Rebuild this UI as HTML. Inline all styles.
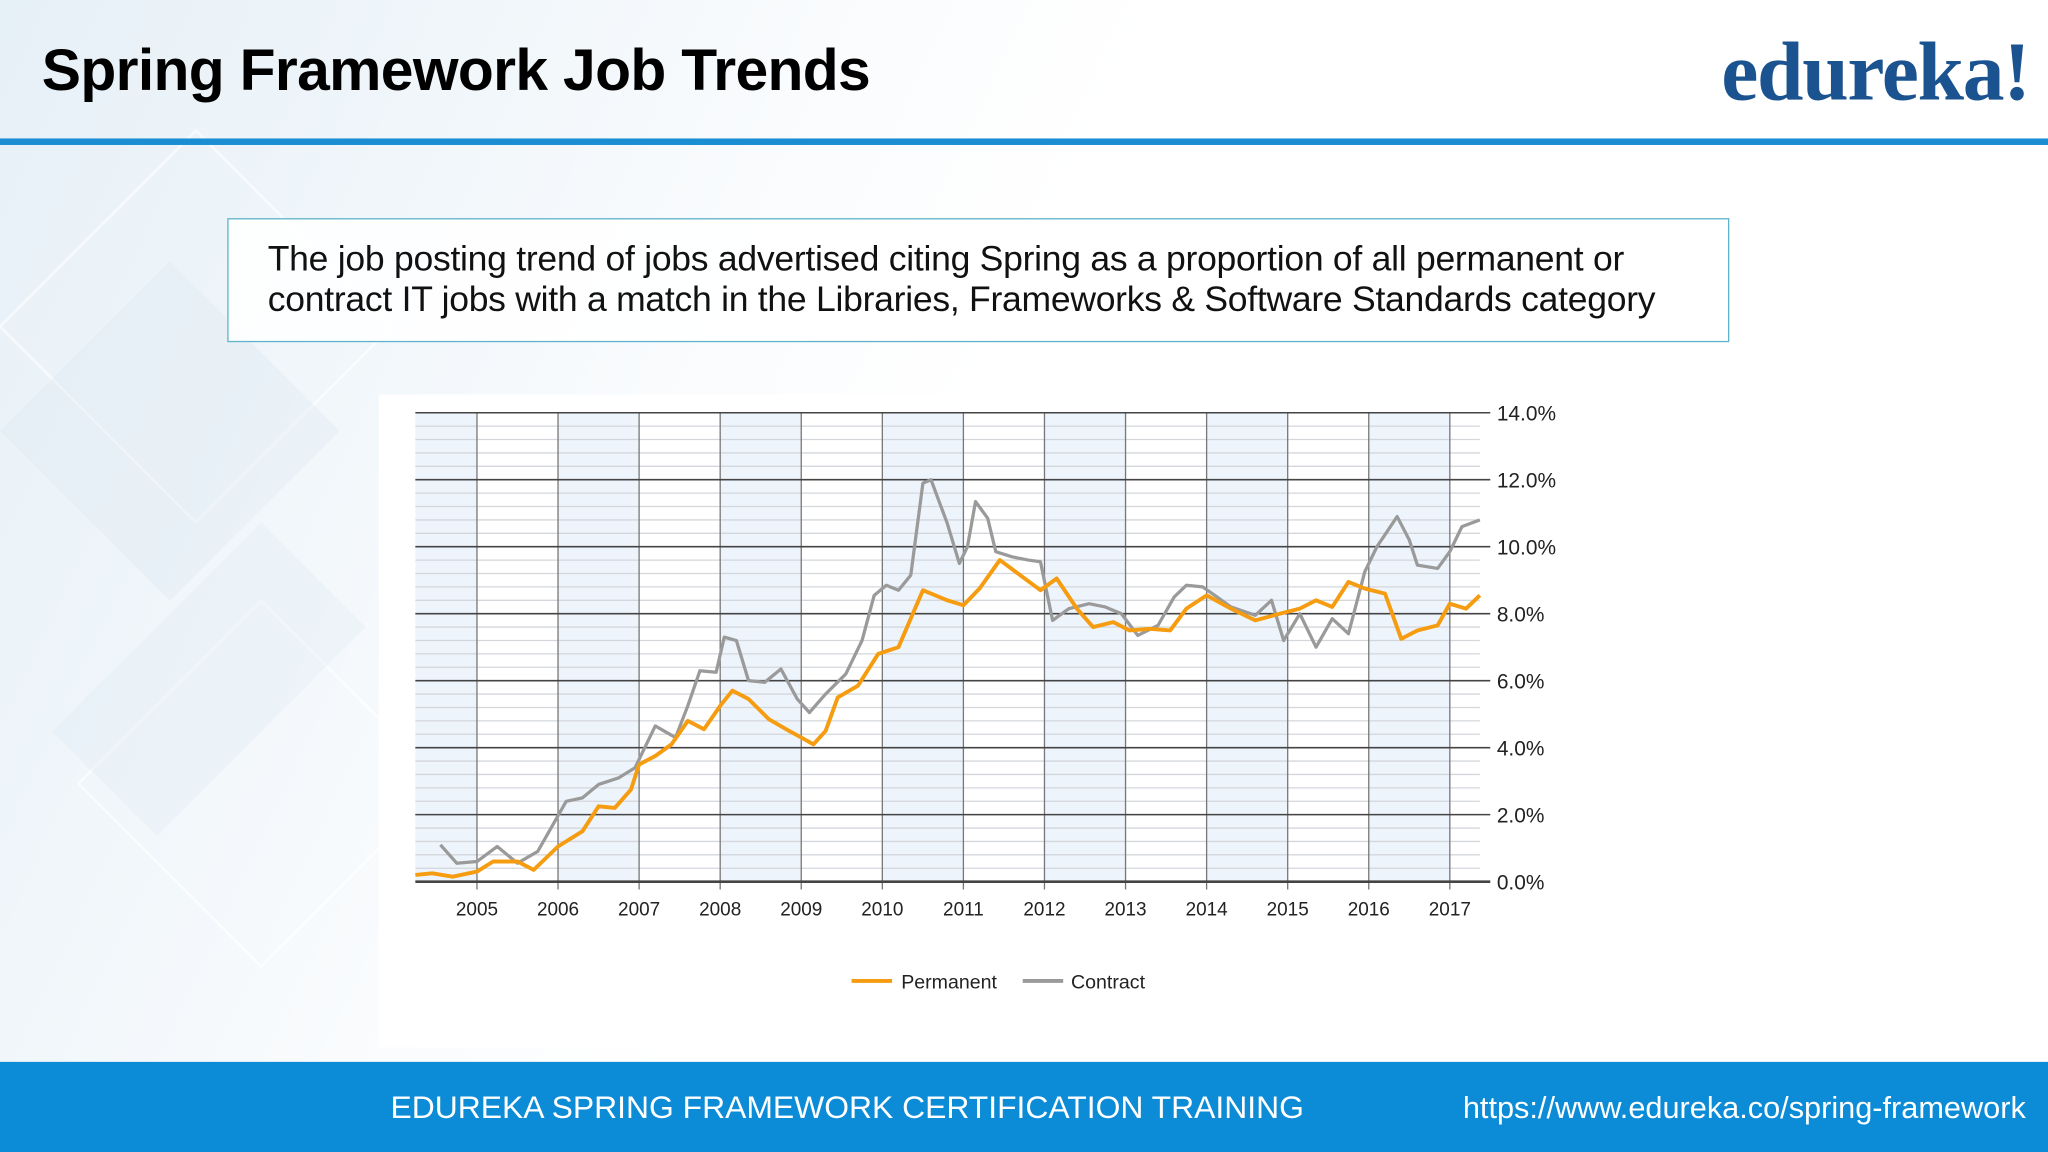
<!DOCTYPE html>
<html><head><meta charset="utf-8">
<style>
html,body{margin:0;padding:0;width:2048px;height:1152px;overflow:hidden;background:#fff;}
#stage{position:absolute;left:0;top:0;width:1568px;height:882px;transform:scale(1.306122);transform-origin:0 0;font-family:"Liberation Sans",sans-serif;
background:linear-gradient(115deg,#e6f0f7 0%,#f0f6fa 18%,#f9fbfd 32%,#ffffff 45%);overflow:hidden;}
.title{position:absolute;left:32px;top:28px;font-size:45px;font-weight:bold;color:#000;letter-spacing:-0.5px;}
.logo{position:absolute;right:14px;top:18px;font-family:"Liberation Serif",serif;font-size:64px;font-weight:bold;color:#1a5390;letter-spacing:-1px;}
.rule{position:absolute;left:0;top:106px;width:1568px;height:5px;background:#1b8ed3;}
.box{position:absolute;left:174px;top:167px;width:1148px;height:93px;border:1.5px solid #5fb3cc;background:rgba(255,255,255,0.85);}
.box p{margin:0;position:absolute;left:30px;top:14px;font-size:27.2px;line-height:31px;color:#111;letter-spacing:-0.2px;}
.chartbg{position:absolute;left:290px;top:302px;width:1045px;height:500px;background:#fff;}
.footer{position:absolute;left:0;top:813px;width:1568px;height:69px;background:#0c8bd6;color:#fff;}
.footer .l{position:absolute;left:299px;top:22px;font-size:24.4px;}
.footer .r{position:absolute;right:17px;top:22px;font-size:23.5px;}
</style></head><body>
<div id="stage">
<svg width="1568" height="882" style="position:absolute;left:0;top:0">
<g stroke="#ffffff" stroke-width="2" fill="none" opacity="0.6">
<path d="M0 250 L150 100 L300 250 L150 400 Z"/><path d="M60 600 L200 460 L340 600 L200 740 Z"/>
</g>
<polygon points="0,330 130,200 260,330 130,460" fill="#dde9f2" opacity="0.35"/>
<polygon points="40,560 200,400 280,480 120,640" fill="#e0ebf4" opacity="0.35"/>
</svg>
<div class="title">Spring Framework Job Trends</div>
<div class="logo">edureka!</div>
<div class="rule"></div>
<div class="box"><p>The job posting trend of jobs advertised citing Spring as a proportion of all permanent or<br>contract IT jobs with a match in the Libraries, Frameworks &amp; Software Standards category</p></div>
<div class="chartbg"></div>
<svg id="chart" width="1568" height="882" style="position:absolute;left:0;top:0"></svg>
<div class="footer">
<div class="l">EDUREKA SPRING FRAMEWORK CERTIFICATION TRAINING</div>
<div class="r">https://www.edureka.co/spring-framework</div>
</div>
</div>
<script>
const years=[2005,2006,2007,2008,2009,2010,2011,2012,2013,2014,2015,2016,2017];
const yTicks=[0,2,4,6,8,10,12,14];
const yTickLabels=["0.0%","2.0%","4.0%","6.0%","8.0%","10.0%","12.0%","14.0%"];
const permDates=[2004.24,2004.45,2004.7,2005.0,2005.2,2005.5,2005.7,2006.0,2006.3,2006.5,2006.7,2006.9,2007.0,2007.2,2007.4,2007.6,2007.8,2008.0,2008.15,2008.35,2008.6,2008.85,2009.0,2009.15,2009.3,2009.45,2009.7,2009.95,2010.2,2010.5,2010.8,2011.0,2011.2,2011.45,2011.7,2011.95,2012.15,2012.4,2012.6,2012.85,2013.05,2013.3,2013.55,2013.75,2014.0,2014.3,2014.6,2014.9,2015.15,2015.35,2015.55,2015.75,2015.95,2016.2,2016.4,2016.6,2016.85,2017.0,2017.2,2017.37];
const permValues=[0.2,0.25,0.15,0.3,0.6,0.6,0.35,1.05,1.5,2.25,2.2,2.75,3.5,3.75,4.1,4.8,4.55,5.25,5.7,5.45,4.85,4.5,4.3,4.1,4.5,5.5,5.85,6.8,7.0,8.7,8.4,8.25,8.75,9.6,9.15,8.7,9.05,8.15,7.6,7.75,7.5,7.55,7.5,8.15,8.55,8.15,7.8,8.0,8.15,8.4,8.2,8.95,8.75,8.6,7.25,7.5,7.65,8.3,8.15,8.55];
const contDates=[2004.55,2004.75,2005.0,2005.25,2005.5,2005.75,2005.95,2006.1,2006.3,2006.5,2006.75,2006.95,2007.2,2007.45,2007.6,2007.75,2007.95,2008.05,2008.2,2008.35,2008.55,2008.75,2008.95,2009.1,2009.3,2009.55,2009.75,2009.9,2010.05,2010.2,2010.35,2010.5,2010.6,2010.8,2010.95,2011.05,2011.15,2011.3,2011.4,2011.6,2011.8,2011.95,2012.1,2012.3,2012.55,2012.75,2012.95,2013.15,2013.4,2013.6,2013.75,2013.95,2014.1,2014.3,2014.6,2014.8,2014.95,2015.15,2015.35,2015.55,2015.75,2015.95,2016.1,2016.35,2016.5,2016.6,2016.85,2017.0,2017.15,2017.37];
const contValues=[1.1,0.55,0.6,1.05,0.55,0.9,1.75,2.4,2.5,2.9,3.1,3.4,4.65,4.3,5.25,6.3,6.25,7.3,7.2,6.0,5.95,6.35,5.45,5.05,5.6,6.2,7.2,8.55,8.85,8.7,9.15,11.9,12.0,10.7,9.5,10.0,11.35,10.85,9.85,9.7,9.6,9.55,7.8,8.15,8.3,8.2,8.0,7.35,7.65,8.5,8.85,8.8,8.55,8.2,7.95,8.4,7.2,8.0,7.0,7.85,7.4,9.25,10.0,10.9,10.2,9.45,9.35,9.85,10.6,10.8];

const NS="http://www.w3.org/2000/svg";
const svg=document.getElementById('chart');
const X0=318,X1=1133,Y0=675,Y1=316,xMin=2004.24,xMax=2017.37,yMax=14;
const xs=v=>X0+(v-xMin)/(xMax-xMin)*(X1-X0);
const ys=v=>Y0-v/yMax*(Y0-Y1);
function mk(tag,at){const e=document.createElementNS(NS,tag);for(const k in at)e.setAttribute(k,at[k]);svg.appendChild(e);return e;}
let bandStarts=[xMin].concat(years.filter(y=>y%2===0));
bandStarts.forEach(s=>{
 const e=s===xMin?2005:Math.min(s+1,xMax);
 const r=mk('rect',{x:xs(s),y:Y1,width:xs(e)-xs(s),height:Y0-Y1,fill:'#eef4fb'});
 
 
});
for(let v=0.4;v<yMax;v+=0.4){
 const l=mk('line',{x1:X0,x2:X1,y1:ys(v),y2:ys(v),stroke:'#d3d7dc','stroke-width':1});
 
 
}
years.forEach(y=>{
 const l=mk('line',{x1:xs(y),x2:xs(y),y1:Y1,y2:Y0+6,stroke:'#777','stroke-width':1});
 
 
 const t=mk('text',{x:xs(y),y:Y0+26,'text-anchor':'middle','font-size':14.5,fill:'#222','font-family':'Liberation Sans, sans-serif'});
 t.textContent=y;
 
 
});
yTicks.forEach((v,i)=>{
 const l=mk('line',{x1:X0,x2:X1+8,y1:ys(v),y2:ys(v),stroke:'#444','stroke-width':v===0?2:1.2});
 
 
 const t=mk('text',{x:1146,y:ys(v)+6,'font-size':16,fill:'#222','font-family':'Liberation Sans, sans-serif'});
 t.textContent=yTickLabels[i];
 
 
});
function line(d,v,c,name){
 const p=d.map((x,i)=>(i?'L':'M')+xs(x).toFixed(1)+' '+ys(v[i]).toFixed(1)).join(' ');
 const e=mk('path',{d:p,fill:'none',stroke:c,'stroke-width':c==='#f59c11'?3:2.5,'stroke-linejoin':'round'});
 
 
}
line(contDates,contValues,'#9a9a9a','contract-line');
line(permDates,permValues,'#f59c11','permanent-line');
const lg1=mk('line',{x1:652,x2:683,y1:751,y2:751,stroke:'#f59c11','stroke-width':3});


const lt1=mk('text',{x:690,y:757,'font-size':15,fill:'#222','font-family':'Liberation Sans, sans-serif'});
lt1.textContent='Permanent';


const lg2=mk('line',{x1:783,x2:814,y1:751,y2:751,stroke:'#9a9a9a','stroke-width':3});


const lt2=mk('text',{x:820,y:757,'font-size':15,fill:'#222','font-family':'Liberation Sans, sans-serif'});
lt2.textContent='Contract';


</script>
</body></html>
